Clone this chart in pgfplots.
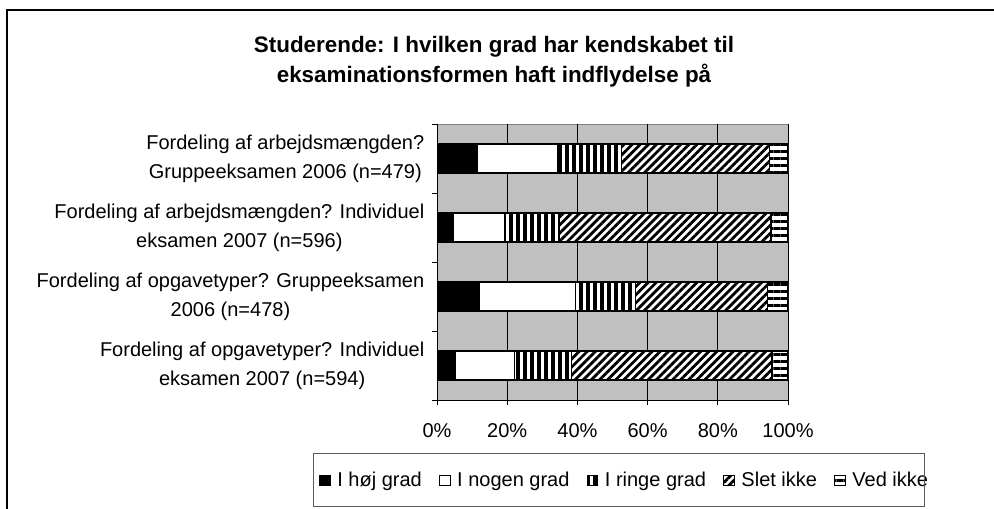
\documentclass[border=0pt]{standalone}
\usepackage{pgfplots}
\usepackage{pgfplotstable}
\pgfplotsset{compat=1.18}
\usepackage{fontspec}
\setmainfont{Liberation Sans}
\usetikzlibrary{patterns.meta}
\definecolor{plotgrey}{HTML}{C0C0C0}
\definecolor{bordergrey}{HTML}{808080}

\pgfplotstableread{
cat hoej nogen ringe slet ved
0 11.4 23.1 18.0 42.2 5.3
1 4.6 14.7 15.5 60.4 4.8
2 12.1 27.4 17.0 37.7 5.8
3 5.2 16.8 16.3 57.1 4.6
}\datatable

\begin{document}
\begin{tikzpicture}[x=0.75pt,y=0.75pt]
\useasboundingbox (0,0) rectangle (994,509);
\draw[line width=1.5pt] (7,0) -- (7,499) -- (994,499);
\node[align=center, font=\bfseries\fontsize{16.8}{22.5}\selectfont] at (494,447) {Studerende: I hvilken grad har kendskabet til\\eksaminationsformen haft indflydelse på};
\begin{axis}[
  at={(327.75pt,81.75pt)}, anchor=south west,
  scale only axis, width=263.25pt, height=207pt,
  xbar stacked, bar width=0.42,
  xmin=0, xmax=100, ymin=-0.5, ymax=3.5, y dir=reverse,
  axis background/.style={fill=plotgrey, draw=bordergrey, line width=0.75pt},
  axis x line*=bottom, axis y line*=left,
  axis line style={black, line width=0.75pt, -},
  tick align=outside, major tick length=3.75pt,
  tick style={black, line width=0.6pt},
  xtick={0,20,...,100},
  xticklabel={\pgfmathprintnumber{\tick}\%},
  xmajorgrids, grid style={black, line width=0.6pt},
  ytick={-0.5,0.5,1.5,2.5,3.5}, yticklabels={,,,,,},
  extra y ticks={0,1,2,3},
  extra y tick labels={{Fordeling af arbejdsmængden?\\Gruppeeksamen 2006 (n=479)},{Fordeling af arbejdsmængden? Individuel\\eksamen 2007 (n=596)},{Fordeling af opgavetyper? Gruppeeksamen\\2006 (n=478)},{Fordeling af opgavetyper? Individuel\\eksamen 2007 (n=594)}},
  extra y tick style={major tick length=0pt, yticklabel style={align=center, font=\fontsize{15}{22}\selectfont, xshift=-6pt}},
  xticklabel style={font=\fontsize{15}{17}\selectfont, yshift=-10pt},
  /pgf/number format/assume math mode=true,
  every axis plot/.append style={draw=black, line width=1pt},
  legend columns=5,
  legend style={draw=none, fill=none, at={(0.5356,-0.2917)}, anchor=center,
    font=\fontsize{15}{17}\selectfont,
    /tikz/every odd column/.append style={column sep=3pt},
    /tikz/every even column/.append style={column sep=11pt}},
  legend image code/.code={\draw[#1, line width=0.75pt] (0pt,-3.9pt) rectangle (7.8pt,3.9pt);},
]
\addplot[fill=black] table[x=hoej, y=cat]{\datatable};
\addplot[fill=white] table[x=nogen, y=cat]{\datatable};
\addplot[fill=white, postaction={pattern={Lines[angle=90,distance=5.25pt,line width=2.4pt]}}] table[x=ringe, y=cat]{\datatable};
\addplot[fill=white, postaction={pattern={Lines[angle=45,distance=4.3pt,line width=2.1pt]}}] table[x=slet, y=cat]{\datatable};
\addplot[fill=white, postaction={pattern={Lines[angle=0,distance=5.25pt,line width=2.25pt]}}] table[x=ved, y=cat]{\datatable};
\legend{I høj grad, I nogen grad, I ringe grad, Slet ikke, Ved ikke}
\end{axis}
\draw[bordergrey!70!black, line width=0.75pt] (313,2) rectangle (924,55);
\end{tikzpicture}
\end{document}
